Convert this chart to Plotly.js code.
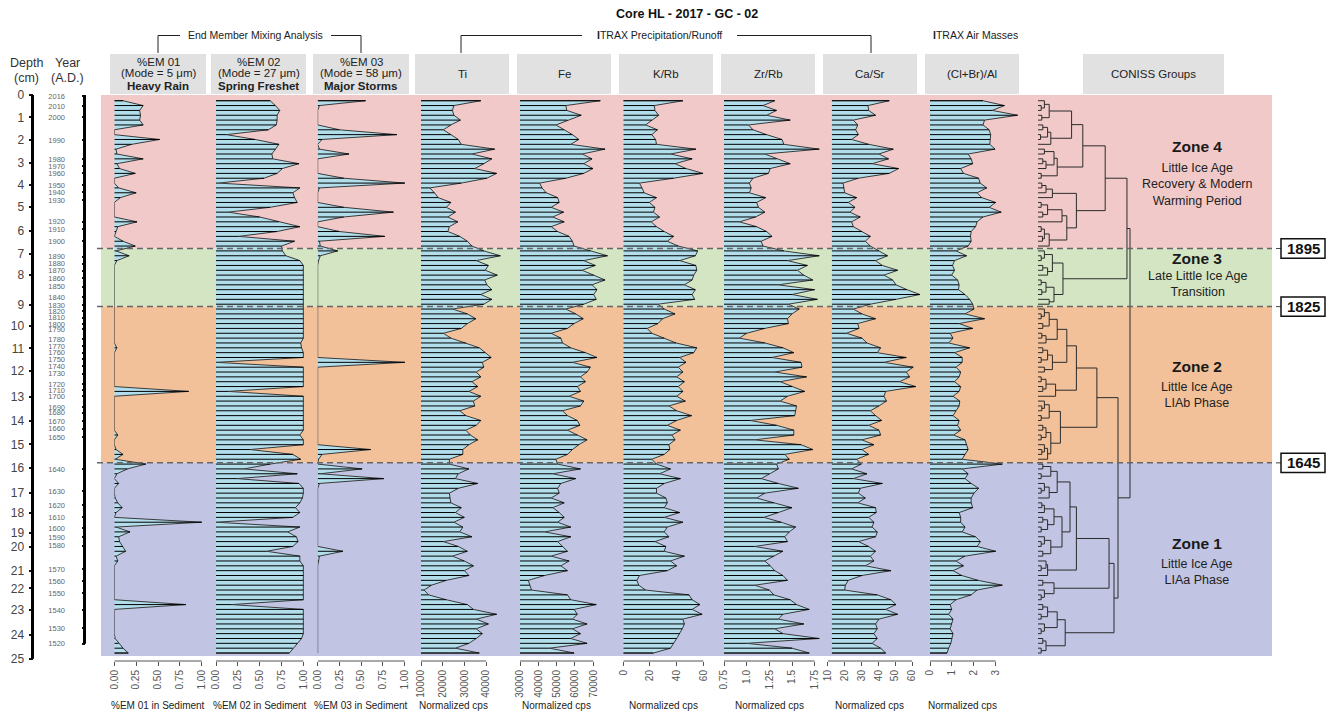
<!DOCTYPE html>
<html>
<head>
<meta charset="utf-8">
<script src="https://cdn.plot.ly/plotly-3.0.1.min.js"></script>
<style>
  html, body { margin: 0; padding: 0; background: #ffffff; }
  #chart { width: 1332px; height: 715px; }
</style>
</head>
<body>
<div id="chart"></div>
<script>
// ---------------------------------------------------------------
// Core HL-2017-GC-02 : 115 contiguous samples, top (0) to base (114)
// ---------------------------------------------------------------

// End member mixing analysis (fractions of sediment)
const em01 = [0.10,0.33,0.29,0.30,0.29,0.33,0.00,0.00,0.52,0.20,
  0.02,0.03,0.33,0.03,0.06,0.24,0.00,0.00,0.05,0.25,
  0.07,0.00,0.00,0.00,0.00,0.26,0.04,0.02,0.00,0.10,
  0.24,0.02,0.17,0.03,0.00,0.00,0.00,0.00,0.00,0.00,
  0.00,0.00,0.00,0.00,0.00,0.00,0.00,0.00,0.00,0.00,
  0.00,0.03,0.00,0.00,0.00,0.00,0.00,0.00,0.00,0.00,
  0.85,0.00,0.00,0.00,0.00,0.00,0.00,0.00,0.00,0.04,
  0.00,0.00,0.02,0.10,0.01,0.36,0.15,0.03,0.00,0.05,
  0.00,0.00,0.01,0.04,0.09,0.02,0.00,1.00,0.02,0.18,
  0.05,0.06,0.10,0.13,0.02,0.04,0.00,0.00,0.00,0.00,
  0.00,0.00,0.00,0.00,0.82,0.00,0.00,0.00,0.00,0.00,
  0.00,0.01,0.05,0.10,0.16];

const em02 = [0.62,0.68,0.73,0.70,0.70,0.69,0.60,0.12,0.45,0.72,
  0.68,0.64,0.65,0.95,0.76,0.70,0.55,0.03,0.96,0.88,
  0.90,0.93,0.62,0.14,0.50,0.72,0.96,0.70,0.26,0.90,
  0.75,0.76,0.80,0.96,1.00,1.00,1.00,1.00,1.00,1.00,
  1.00,1.00,1.00,1.00,1.00,1.00,1.00,1.00,1.00,1.00,
  0.97,0.98,1.00,1.00,0.00,1.00,1.00,1.00,1.00,1.00,
  0.14,1.00,1.00,1.00,1.00,1.00,1.00,1.00,1.00,0.96,
  1.00,1.00,0.39,0.88,0.97,0.62,0.32,0.93,0.24,0.95,
  1.00,1.00,0.99,0.96,0.91,0.96,0.88,0.00,0.96,0.82,
  0.92,0.94,0.88,0.58,0.96,0.96,1.00,1.00,1.00,1.00,
  1.00,1.00,1.00,1.00,0.18,1.00,1.00,1.00,1.00,1.00,
  1.00,0.98,0.93,0.88,0.84];

const em03 = [0.55,0.02,0.00,0.00,0.00,0.00,0.25,0.91,0.05,0.00,
  0.02,0.36,0.00,0.00,0.00,0.00,0.30,1.00,0.02,0.00,
  0.00,0.00,0.30,0.87,0.30,0.00,0.00,0.25,0.77,0.02,
  0.03,0.23,0.03,0.01,0.00,0.00,0.00,0.00,0.00,0.00,
  0.00,0.00,0.00,0.00,0.00,0.00,0.00,0.00,0.00,0.00,
  0.00,0.00,0.00,0.00,1.00,0.00,0.00,0.00,0.00,0.00,
  0.00,0.00,0.00,0.00,0.00,0.00,0.00,0.00,0.00,0.00,
  0.00,0.00,0.61,0.05,0.01,0.00,0.51,0.03,0.76,0.02,
  0.00,0.00,0.00,0.00,0.00,0.00,0.00,0.00,0.00,0.00,
  0.00,0.00,0.00,0.29,0.02,0.01,0.00,0.00,0.00,0.00,
  0.00,0.00,0.00,0.00,0.00,0.00,0.00,0.00,0.00,0.00,
  0.00,0.00,0.00,0.00,0.00];

// ITRAX XRF scanning, normalized counts and ratios
const ti = [37600,25200,24500,25200,28200,23800,20300,23800,27200,28600,
  44000,33500,42700,39000,34800,44900,40400,28600,14100,16200,
  17900,23800,21700,25900,22400,27000,23100,22400,27900,31400,
  33500,39000,46600,35500,41100,39700,45200,39400,40400,42700,
  37600,42700,39000,24500,31400,35300,31400,28600,20300,23800,
  30700,36900,39700,42400,38300,39000,35500,37600,33500,36200,
  32100,37600,34200,34800,27900,30700,37600,35500,30700,32800,
  36200,32100,29300,29300,23100,23100,32100,27200,25900,36200,
  27200,23100,23400,23800,28600,25900,30000,25200,29300,27900,
  33500,20300,27200,31400,24500,30000,34200,30000,32100,21700,
  14800,11400,13500,21700,31400,34200,44900,35500,41100,35500,
  38300,35500,32100,25900,36900];

const fe = [73800,55000,55500,63400,55900,49600,54100,58600,62100,57700,
  76400,63900,69300,64800,69800,64800,55000,40700,42000,44300,
  50500,51400,47000,53800,47900,54100,47000,50500,56800,58600,
  59500,68400,77700,64800,71100,63900,70200,76400,69300,72000,
  70200,71600,64800,55000,60400,64500,59500,55900,47000,52300,
  53200,57700,65700,72000,58600,68400,66600,63000,65700,61300,
  63000,56800,64800,63000,53200,55900,61300,62700,55900,61300,
  66600,62100,58600,55900,49600,50500,63000,47900,60400,52300,
  50500,51400,47000,54100,47900,51400,54100,50500,57700,43400,
  57700,50500,53200,55900,47000,56800,52300,55900,43400,34500,
  35400,36300,55900,57700,71600,59500,61300,58600,66600,58600,
  63000,57700,66600,46100,59500];

const kRb = [44.7,23.3,23.7,26.5,21.4,16.7,25.6,21.4,24.2,24.9,
  54.4,35.4,51.6,38.8,47.0,59.8,37.7,12.1,14.0,15.6,
  24.9,19.5,23.7,22.6,27.2,20.9,24.9,30.7,37.7,33.0,
  41.2,55.8,54.0,42.3,54.4,55.1,52.8,51.6,45.8,54.0,
  51.6,53.5,26.0,30.7,38.8,29.5,26.0,17.9,21.4,30.7,
  39.5,55.1,52.8,42.3,47.0,41.2,44.7,40.0,45.8,41.2,
  44.7,40.0,46.5,34.2,40.0,51.2,40.0,33.0,42.8,36.5,
  38.8,34.2,34.9,30.7,21.4,24.9,35.4,27.2,42.8,30.7,
  24.9,24.9,31.9,33.0,30.7,42.3,30.7,44.7,33.0,30.7,
  34.2,23.7,31.9,30.7,45.8,35.4,40.0,33.0,12.1,10.2,
  11.6,16.7,49.3,51.6,57.4,51.6,59.1,44.7,45.8,44.2,
  42.3,40.0,37.7,35.4,22.6];

const zrRb = [1.31,1.18,1.33,1.22,1.48,1.02,1.07,1.22,1.39,1.41,
  1.80,1.20,1.33,1.48,1.26,1.24,1.07,1.03,1.05,1.03,
  1.21,1.11,1.13,1.20,1.10,0.92,1.11,1.22,1.28,1.16,
  1.18,1.41,1.80,1.45,1.67,1.56,1.63,1.73,1.35,1.75,
  1.50,1.78,1.46,1.58,1.50,1.45,1.46,1.20,1.00,0.92,
  1.20,1.40,1.52,1.28,1.60,1.61,1.31,1.66,1.37,1.50,
  1.64,1.45,1.37,1.55,1.54,1.53,1.04,1.33,1.52,1.52,
  1.09,1.60,1.73,1.42,1.47,1.33,1.35,1.25,1.16,1.35,
  1.57,1.20,1.11,1.30,1.50,1.35,1.19,1.38,1.54,1.47,
  1.42,1.45,1.09,1.40,1.30,1.20,1.26,1.31,1.40,1.45,
  1.09,1.25,1.30,1.48,1.55,1.69,1.40,1.35,1.63,1.31,
  1.40,1.80,1.00,1.50,1.69];

const caSr = [46.5,33.9,34.3,38.4,25.2,27.8,26.6,28.2,24.2,34.3,
  48.9,40.4,46.1,36.3,52.1,46.5,28.2,19.1,19.7,20.1,
  27.2,22.2,26.2,23.2,29.3,24.2,25.2,30.3,35.3,32.3,
  35.3,40.4,45.5,38.4,42.4,51.5,43.4,48.5,50.5,57.0,
  64.7,50.5,35.3,25.2,30.3,38.4,27.8,28.6,21.1,30.3,
  33.3,41.4,39.4,56.6,43.4,60.7,56.6,58.6,52.6,62.3,
  44.4,43.4,44.9,40.4,35.3,38.4,42.0,34.3,40.4,41.4,
  30.3,37.4,30.3,34.3,27.2,29.9,24.2,33.3,25.2,42.4,
  29.3,28.2,32.3,27.8,38.4,38.8,34.3,37.4,36.3,39.4,
  38.4,28.2,34.3,38.4,35.3,37.4,32.3,47.5,30.3,22.2,
  20.5,20.1,39.4,47.5,50.5,44.4,51.5,40.4,38.4,39.4,
  37.4,39.4,36.3,41.4,44.4];

const clBrAl = [2.42,3.40,2.84,4.00,2.49,2.42,2.70,2.77,2.74,2.73,
  2.97,1.74,1.88,1.95,1.40,1.53,2.22,2.29,2.59,2.15,
  2.36,3.00,2.70,3.25,2.42,2.15,2.08,1.88,1.85,1.88,
  1.74,1.19,1.67,1.12,1.03,1.12,0.99,1.26,1.33,1.30,
  1.60,1.81,1.95,2.01,1.60,2.49,1.33,1.95,0.92,1.05,
  0.85,1.81,1.12,1.47,1.47,1.19,1.40,1.33,1.12,1.40,
  1.33,1.05,1.36,1.33,1.19,1.05,1.33,1.26,1.40,1.08,
  1.60,1.67,1.74,1.60,1.47,3.30,1.47,1.74,1.60,1.88,
  2.22,2.01,1.88,1.88,1.95,1.33,1.40,1.40,1.60,1.47,
  2.08,2.30,2.15,3.00,1.60,1.19,1.53,1.05,1.45,2.20,
  3.30,2.15,1.88,1.19,0.92,0.99,0.85,1.05,0.99,0.92,
  1.05,0.99,0.95,0.85,0.78];

// CONISS: dispersion at which each pair of neighbouring samples is joined
const conissJoin = [2.0,1.0,3.5,1.2,10.5,1.5,3.0,0.8,4.0,14.0,
  2.0,5.0,1.5,2.5,6.0,1.0,21.0,1.2,2.5,4.5,
  12.0,1.0,3.0,1.5,7.5,9.0,1.0,2.0,1.4,3.5,
  27.8,
  2.0,1.0,4.5,1.5,3.0,7.8,1.0,2.5,1.2,5.0,3.5,
  28.75,
  2.0,1.0,3.5,1.5,6.0,1.2,2.5,9.0,1.5,3.0,1.0,4.5,2.0,12.0,1.0,2.5,
  1.5,5.5,18.4,2.0,1.2,3.5,1.0,7.0,1.5,2.5,1.0,4.0,2.0,1.2,3.0,
  25.0,
  1.5,4.0,1.0,6.0,2.0,1.0,3.5,10.0,1.2,2.0,5.0,1.5,3.0,1.0,7.5,2.0,
  1.0,4.0,1.5,12.0,2.5,1.0,3.0,22.2,1.5,5.0,2.0,1.0,23.75,1.5,3.0,
  1.0,6.0,2.0,1.0,8.5,1.5,2.5,1.0];

// Depth scale and age model expressed along the sample sequence
const depthLabels = [0,1,2,3,4,5,6,7,8,9,10,11,12,13,14,15,16,17,18,19,20,21,22,23,24,25];
const depthAtSample = [-1.18,3.43,8.11,12.80,17.40,21.88,26.83,31.64,35.98,42.17,46.50,51.11,55.79,
  61.09,66.05,70.92,75.87,81.03,85.04,89.16,92.05,97.01,100.64,105.12,110.34,115.17];
const yearLabels = [2016,2010,2000,1990,1980,1970,1960,1950,1940,1930,1920,1910,1900,1890,1880,
  1870,1860,1850,1840,1830,1820,1810,1800,1790,1780,1770,1760,1750,1740,1730,1720,1710,1700,
  1690,1680,1670,1660,1650,1640,1630,1620,1610,1600,1590,1580,1570,1560,1550,1540,1530,1520];
const yearAtSample = [-0.97,1.09,3.43,8.11,12.10,13.54,14.98,17.40,18.91,20.56,24.97,26.54,28.96,
  32.20,33.64,35.09,36.66,38.39,40.52,42.17,43.41,44.79,46.15,47.18,49.18,50.69,52.01,53.37,54.76,
  56.35,58.53,59.71,60.95,63.28,64.40,66.11,67.70,69.41,76.08,80.56,83.45,85.92,88.19,90.11,91.85,
  96.66,99.13,101.67,105.12,108.84,112.07];

// Zones (CONISS groups) and their boundary years
const zoneNames = ['Zone 4', 'Zone 3', 'Zone 2', 'Zone 1'];
const zoneSubtitles = [
  ['Little Ice Age', 'Recovery & Modern', 'Warming Period'],
  ['Late Little Ice Age', 'Transition'],
  ['Little Ice Age', 'LIAb Phase'],
  ['Little Ice Age', 'LIAa Phase']];
const zoneBreaks = [30.5, 42.5, 74.75];
const zoneBreakYears = ['1895', '1825', '1645'];

// ---------------------------------------------------------------
// Page geometry helpers (pixels -> paper fractions)
// ---------------------------------------------------------------
const W = 1332, H = 715;
const px = p => p / W;
const py = p => 1 - p / H;
const FONT = 'Liberation Sans, Arial, Helvetica, sans-serif';
const N = ti.length;
const sampleIdx = Array.from({length: N}, (_, i) => i);

const Y_TOP = -1.18, Y_BOTTOM = 115.44, PANEL_BOTTOM = 114.6;
const AXIS_Y = py(661);

const emTicks = [0, 0.25, 0.5, 0.75, 1];
const emText = ['0.00', '0.25', '0.50', '0.75', '1.00'];
const panels = [
  {vals: em01, base: 0, dom: [114.3, 206], range: [0, 1.049], ticks: emTicks, text: emText,
   head: ['%EM 01', '(Mode = 5 μm)', 'Heavy Rain'], hbox: [110, 206], title: '%EM 01 in Sediment'},
  {vals: em02, base: 0, dom: [216, 307], range: [0, 1.042], ticks: emTicks, text: emText,
   head: ['%EM 02', '(Mode = 27 μm)', 'Spring Freshet'], hbox: [211, 306], title: '%EM 02 in Sediment'},
  {vals: em03, base: 0, dom: [317.7, 409], range: [0, 1.049], ticks: emTicks, text: emText,
   head: ['%EM 03', '(Mode = 58 μm)', 'Major Storms'], hbox: [313, 409], title: '%EM 03 in Sediment'},
  {vals: ti, base: 10000, dom: [421, 512], range: [10000, 52000], ticks: [10000, 20000, 30000, 40000],
   head: ['Ti'], hbox: [415, 509], title: 'Normalized cps'},
  {vals: fe, base: 30000, dom: [520, 612], range: [30000, 80190], ticks: [30000, 40000, 50000, 60000, 70000],
   head: ['Fe'], hbox: [517, 611], title: 'Normalized cps'},
  {vals: kRb, base: 0, dom: [623.3, 714], range: [0, 68.0], ticks: [0, 20, 40, 60],
   head: ['K/Rb'], hbox: [619, 713], title: 'Normalized cps'},
  {vals: zrRb, base: 0.75, dom: [724, 826], range: [0.75, 1.875], ticks: [0.75, 1.0, 1.25, 1.5, 1.75],
   text: ['0.75', '1.0', '1.25', '1.5', '1.75'], head: ['Zr/Rb'], hbox: [721, 815], title: 'Normalized cps'},
  {vals: caSr, base: 12.5, dom: [827.7, 922], range: [10, 65.93], ticks: [10, 20, 30, 40, 50, 60],
   head: ['Ca/Sr'], hbox: [823, 917], title: 'Normalized cps'},
  {vals: clBrAl, base: 0, dom: [930, 1022], range: [0, 4.2], ticks: [0, 1, 2, 3],
   head: ['(Cl+Br)/Al'], hbox: [925, 1019], title: 'Normalized cps'}
];

const traces = [];
const shapes = [];
const annotations = [];
const layout = {
  width: W, height: H,
  margin: {l: 0, r: 0, t: 0, b: 0, pad: 0},
  paper_bgcolor: '#ffffff', plot_bgcolor: 'rgba(0,0,0,0)',
  showlegend: false, hovermode: false,
  font: {family: FONT, color: '#333'},
  yaxis: {domain: [py(660), py(95)], range: [Y_BOTTOM, Y_TOP], visible: false, fixedrange: true}
};

// Text placed at page pixel positions, centred on (x, y)
function label(x, y, text, size, color, extra) {
  annotations.push(Object.assign({xref: 'paper', yref: 'paper', x: px(x), y: py(y), showarrow: false,
    text: text, xanchor: 'center', yanchor: 'middle', align: 'center',
    font: {size: size, color: color, family: FONT}}, extra || {}));
}

// Zone backgrounds
const zoneColors = ['#F2C9C9', '#D4E5C4', '#F3C199', '#C1C4E3'];
const zoneEdges = [Y_TOP].concat(zoneBreaks, [PANEL_BOTTOM]);
zoneColors.forEach((c, i) => {
  shapes.push({type: 'rect', layer: 'below', xref: 'paper', yref: 'y',
    x0: px(101), x1: px(1272), y0: zoneEdges[i], y1: zoneEdges[i + 1],
    fillcolor: c, line: {width: 0}});
});

// Stratigraphic panels
panels.forEach((p, i) => {
  const ax = i === 0 ? '' : String(i + 1);
  const xName = 'x' + ax;
  // filled curve from the baseline
  const fx = [p.base].concat(p.vals, [p.base]);
  const fy = [sampleIdx[0]].concat(sampleIdx, [sampleIdx[N - 1]]);
  traces.push({type: 'scatter', mode: 'lines', x: fx, y: fy, xaxis: xName, yaxis: 'y',
    fill: 'toself', fillcolor: 'rgb(178,222,236)', line: {color: '#3a3a3a', width: 1},
    hoverinfo: 'skip', cliponaxis: false});
  // one bar per sample
  const bx = [], by = [];
  p.vals.forEach((v, k) => { bx.push(p.base, v, null); by.push(sampleIdx[k], sampleIdx[k], null); });
  traces.push({type: 'scatter', mode: 'lines', x: bx, y: by, xaxis: xName, yaxis: 'y',
    line: {color: '#000', width: 1}, hoverinfo: 'skip', cliponaxis: false});

  layout['xaxis' + ax] = {
    domain: [px(p.dom[0]), px(p.dom[1])], range: p.range, anchor: 'free', position: AXIS_Y,
    side: 'bottom', showgrid: false, zeroline: false, showline: false, fixedrange: true,
    tickmode: 'array', tickvals: p.ticks, ticktext: p.text || p.ticks.map(String),
    ticks: 'outside', ticklen: 4, tickwidth: 1, tickcolor: '#555',
    tickangle: -90, tickfont: {size: 10, color: '#555', family: FONT}
  };
  // axis baseline between first and last tick
  shapes.push({type: 'line', xref: xName, yref: 'paper', x0: p.ticks[0], x1: p.ticks[p.ticks.length - 1],
    y0: AXIS_Y, y1: AXIS_Y, line: {color: '#555', width: 1}});
  // header box
  shapes.push({type: 'rect', layer: 'below', xref: 'paper', yref: 'paper',
    x0: px(p.hbox[0]), x1: px(p.hbox[1]), y0: py(94), y1: py(54), fillcolor: '#E1E1E1', line: {width: 0}});
  const cx = (p.hbox[0] + p.hbox[1]) / 2;
  if (p.head.length === 3) {
    label(cx, 62, p.head[0], 11.5, '#222');
    label(cx, 73, p.head[1], 11.5, '#222');
    label(cx, 86, '<b>' + p.head[2] + '</b>', 11.5, '#222');
  } else {
    label(cx, 74, p.head[0], 11.5, '#222');
  }
  // axis title
  const tc = (p.ticks[0] + p.ticks[p.ticks.length - 1]) / 2;
  annotations.push({xref: xName, yref: 'paper', x: tc, y: py(705), showarrow: false,
    text: p.title, font: {size: 10, color: '#222', family: FONT}, xanchor: 'center', yanchor: 'middle'});
});

// CONISS dendrogram built from the neighbour join levels
const segX = [], segY = [];
function joinRange(lo, hi) {
  if (lo === hi) return {y: sampleIdx[lo], h: 0};
  let g = lo;
  for (let i = lo; i < hi; i++) if (conissJoin[i] > conissJoin[g]) g = i;
  const L = joinRange(lo, g), R = joinRange(g + 1, hi), h = conissJoin[g];
  segX.push(L.h, h, null, R.h, h, null, h, h, null);
  segY.push(L.y, L.y, null, R.y, R.y, null, L.y, R.y, null);
  return {y: (L.y + R.y) / 2, h: h};
}
joinRange(0, N - 1);
traces.push({type: 'scatter', mode: 'lines', x: segX, y: segY, xaxis: 'x11', yaxis: 'y',
  line: {color: '#2b2b2b', width: 1}, hoverinfo: 'skip', cliponaxis: false});
layout.xaxis11 = {domain: [px(1038), px(1140)], range: [0, 31.875], anchor: 'y', visible: false, fixedrange: true};
shapes.push({type: 'rect', layer: 'below', xref: 'paper', yref: 'paper',
  x0: px(1083), x1: px(1224), y0: py(94), y1: py(54), fillcolor: '#E1E1E1', line: {width: 0}});
label(1153.5, 74, 'CONISS Groups', 11.5, '#222');

// Depth and year scales
layout.yaxis2 = {overlaying: 'y', anchor: 'free', position: px(32.5), side: 'left',
  range: [Y_BOTTOM, Y_TOP], showgrid: false, zeroline: false, showline: false, fixedrange: true,
  tickmode: 'array', tickvals: depthAtSample, ticktext: depthLabels.map(String),
  ticks: 'outside', ticklen: 4, tickwidth: 2, tickcolor: '#111', ticklabelstandoff: 2,
  tickfont: {size: 12, color: '#444', family: FONT}};
layout.yaxis3 = {overlaying: 'y', anchor: 'free', position: px(84.5), side: 'left',
  range: [Y_BOTTOM, Y_TOP], showgrid: false, zeroline: false, showline: false, fixedrange: true,
  tickmode: 'array', tickvals: yearAtSample, ticktext: yearLabels.map(String),
  ticks: 'outside', ticklen: 3, tickwidth: 2, tickcolor: '#111', ticklabelstandoff: 15,
  tickfont: {size: 7.5, color: '#666', family: FONT}};
traces.push({type: 'scatter', x: [null], y: [null], xaxis: 'x', yaxis: 'y2', hoverinfo: 'skip'});
traces.push({type: 'scatter', x: [null], y: [null], xaxis: 'x', yaxis: 'y3', hoverinfo: 'skip'});
shapes.push({type: 'line', xref: 'paper', yref: 'y', x0: px(32.5), x1: px(32.5),
  y0: depthAtSample[0], y1: depthAtSample[depthAtSample.length - 1], line: {color: '#000', width: 3}});
shapes.push({type: 'line', xref: 'paper', yref: 'y', x0: px(84.5), x1: px(84.5),
  y0: Y_TOP, y1: yearAtSample[yearAtSample.length - 1], line: {color: '#000', width: 3}});
label(26, 63, 'Depth', 12.5, '#333');
label(26, 78, '(cm)', 12.5, '#333');
label(67, 63, 'Year', 12.5, '#333');
label(67, 78, '(A.D.)', 12.5, '#333');

// Zone boundaries with their years
zoneBreaks.forEach((b, i) => {
  shapes.push({type: 'line', xref: 'paper', yref: 'y', x0: px(97), x1: px(1272), y0: b, y1: b,
    line: {color: '#666', width: 1.5, dash: '6px,4px'}});
  shapes.push({type: 'line', xref: 'paper', yref: 'y', x0: px(1276), x1: px(1281), y0: b, y1: b,
    line: {color: '#444', width: 1}});
  shapes.push({type: 'rect', xref: 'paper', yref: 'y', x0: px(1281), x1: px(1325),
    y0: b - 2.0, y1: b + 2.0, fillcolor: '#fff', line: {color: '#111', width: 1.5}});
  annotations.push({xref: 'paper', yref: 'y', x: px(1303), y: b, showarrow: false,
    text: '<b>' + zoneBreakYears[i] + '</b>', font: {size: 15, color: '#111', family: FONT},
    xanchor: 'center', yanchor: 'middle'});
});

// Zone captions
const zoneTitleY = [147, 259, 366, 543];
const zoneSubY = [184, 284, 395, 572];
zoneNames.forEach((z, i) => {
  label(1197, zoneTitleY[i], '<b>' + z + '</b>', 15.5, '#1a1a1a');
  label(1197, zoneSubY[i], zoneSubtitles[i].join('<br>'), 12.5, '#222');
});

// Group brackets and title
const bracket = (pts) => {
  for (let i = 0; i < pts.length - 1; i++) {
    shapes.push({type: 'line', xref: 'paper', yref: 'paper', x0: px(pts[i][0]), y0: py(pts[i][1]),
      x1: px(pts[i + 1][0]), y1: py(pts[i + 1][1]), line: {color: '#222', width: 1}});
  }
};
bracket([[158, 53], [158, 35.5], [180, 35.5]]);
bracket([[331, 35.5], [361, 35.5], [361, 53]]);
bracket([[461, 53], [461, 35.5], [582, 35.5]]);
bracket([[737, 35.5], [871, 35.5], [871, 53]]);
label(255.5, 35, 'End Member Mixing Analysis', 10.5, '#222');
label(659, 35, '<b>I</b>TRAX Precipitation/Runoff', 10.5, '#222');
label(975, 35, '<b>I</b>TRAX Air Masses', 10.5, '#222');
label(687, 14, '<b>Core HL - 2017 - GC - 02</b>', 12.5, '#111');

layout.shapes = shapes;
layout.annotations = annotations;

Plotly.newPlot('chart', traces, layout, {staticPlot: true, displayModeBar: false});
</script>
</body>
</html>
